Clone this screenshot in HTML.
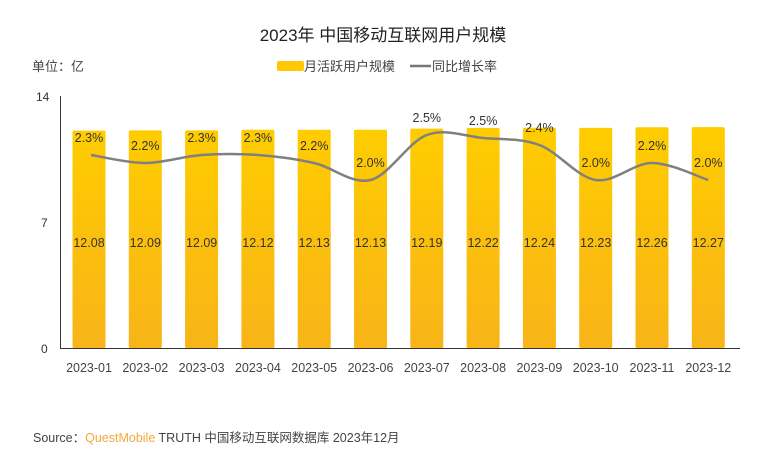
<!DOCTYPE html>
<html><head><meta charset="utf-8"><style>
body{margin:0;background:#fff;}
svg{display:block;font-family:"Liberation Sans","Noto Sans CJK SC",sans-serif;}
</style></head><body>
<svg width="767" height="450" viewBox="0 0 767 450" xmlns="http://www.w3.org/2000/svg">
<defs>
<linearGradient id="g" x1="0" y1="0" x2="0" y2="1">
<stop offset="0" stop-color="#ffcc00"/><stop offset="1" stop-color="#f8b418"/>
</linearGradient>
</defs>
<rect width="767" height="450" fill="#fff"/>
<text x="383" y="41" text-anchor="middle" font-size="17" fill="#222">2023年 中国移动互联网用户规模</text>
<text x="32" y="71" font-size="13" fill="#444">单位：亿</text>
<rect x="277" y="61" width="27" height="10" fill="#ffc800" rx="2"/>
<text x="304" y="71" font-size="13" fill="#444">月活跃用户规模</text>
<line x1="410" y1="66" x2="431" y2="66" stroke="#777" stroke-width="2.5"/>
<text x="432" y="71" font-size="13" fill="#444">同比增长率</text>
<text x="36" y="101" font-size="12" fill="#333">14</text>
<text x="41" y="227" font-size="12" fill="#333">7</text>
<text x="41" y="353" font-size="12" fill="#333">0</text>
<g fill="url(#g)">
<rect x="72.5" y="130.6" width="33" height="217.4" rx="1.5"/>
<rect x="128.8" y="130.4" width="33" height="217.6" rx="1.5"/>
<rect x="185.1" y="130.4" width="33" height="217.6" rx="1.5"/>
<rect x="241.4" y="129.8" width="33" height="218.2" rx="1.5"/>
<rect x="297.7" y="129.7" width="33" height="218.3" rx="1.5"/>
<rect x="354" y="129.7" width="33" height="218.3" rx="1.5"/>
<rect x="410.3" y="128.6" width="33" height="219.4" rx="1.5"/>
<rect x="466.6" y="128" width="33" height="220" rx="1.5"/>
<rect x="522.9" y="127.7" width="33" height="220.3" rx="1.5"/>
<rect x="579.2" y="127.9" width="33" height="220.1" rx="1.5"/>
<rect x="635.5" y="127.3" width="33" height="220.7" rx="1.5"/>
<rect x="691.8" y="127.1" width="33" height="220.9" rx="1.5"/>
</g>
<line x1="60.5" y1="96" x2="60.5" y2="348" stroke="#333" stroke-width="1"/>
<line x1="60" y1="348.5" x2="740" y2="348.5" stroke="#333" stroke-width="1"/>
<g id="bars"></g>
</svg>
<script>
var v=[12.08,12.09,12.09,12.12,12.13,12.13,12.19,12.22,12.24,12.23,12.26,12.27];
var r=["2.3%","2.2%","2.3%","2.3%","2.2%","2.0%","2.5%","2.5%","2.4%","2.0%","2.2%","2.0%"];
var ly=[155,163,155,155,163,180,135,138,145,180,163,180];
var s="",pts=[];
for(var i=0;i<12;i++){
 var cx=89+i*56.3;
 s+='<text x="'+cx+'" y="247" text-anchor="middle" font-size="12.5" fill="#333">'+v[i].toFixed(2)+'</text>';
 s+='<text x="'+cx+'" y="372" text-anchor="middle" font-size="12.5" fill="#444">2023-'+(i<9?'0':'')+(i+1)+'</text>';
 pts.push([cx+(i==0?2:0),ly[i]]);
}
var d="M"+pts[0][0]+","+pts[0][1];
for(var i=0;i<11;i++){
 var p0=pts[Math.max(0,i-1)],p1=pts[i],p2=pts[i+1],p3=pts[Math.min(11,i+2)];
 d+=" C"+(p1[0]+(p2[0]-p0[0])/6)+","+(p1[1]+(p2[1]-p0[1])/6)+" "+(p2[0]-(p3[0]-p1[0])/6)+","+(p2[1]-(p3[1]-p1[1])/6)+" "+p2[0]+","+p2[1];
}
s+='<path d="'+d+'" fill="none" stroke="#808080" stroke-width="2.5"/>';
for(var i=0;i<12;i++){
 var cx=89+i*56.3;
 s+='<text x="'+cx+'" y="'+(ly[i]-13)+'" text-anchor="middle" font-size="12.5" fill="#333">'+r[i]+'</text>';
}
document.getElementById("bars").innerHTML=s;
</script>
<div style="position:absolute;left:33px;top:427px;font:12.5px 'Liberation Sans','Noto Sans CJK SC',sans-serif;color:#444;white-space:nowrap">Source：<span style="color:#f2a93b">QuestMobile</span> TRUTH 中国移动互联网数据库 2023年12月</div>
</body></html>
